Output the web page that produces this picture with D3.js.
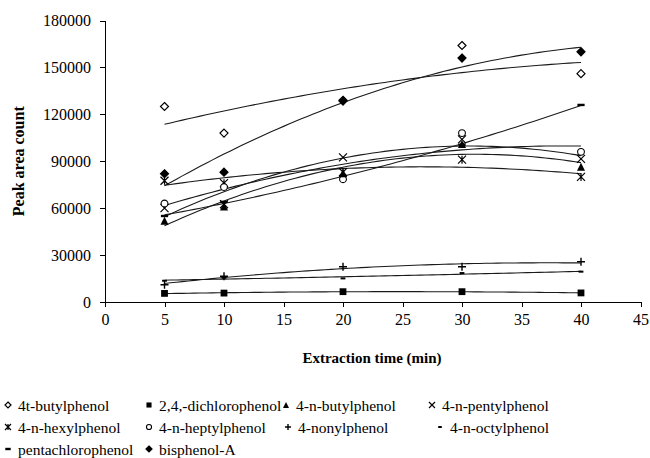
<!DOCTYPE html>
<html lang="en">
<head>
<meta charset="utf-8">
<title>Peak area vs extraction time</title>
<script src="https://d3js.org/d3.v7.min.js"></script>
<style>
  body { margin: 0; background: #fff; }
  svg text { font-family: "Times New Roman", Times, "Liberation Serif", "DejaVu Serif", serif; fill: #000; }
  .axis path, .axis line { stroke: #000; stroke-width: 1; shape-rendering: crispEdges; }
  .axis text { font-size: 16px; }
  .trend { fill: none; stroke: #1a1a1a; stroke-width: 1.1; }
</style>
</head>
<body>
<div id="chart"></div>
<script>
// extraction time (min)
var times = [5, 10, 20, 30, 40];

// peak area counts
var tButylphenol     = [125000, 108000, 129000, 164000, 146000];
var dichlorophenol   = [5500, 5700, 6600, 6600, 5800];
var nButylphenol     = [52000, 61000, 82500, 101000, 86500];
var nPentylphenol    = [60000, 62500, 92500, 104000, 91500];
var nHexylphenol     = [77500, 76000, 83000, 91000, 80000];
var nHeptylphenol    = [63000, 73500, 78500, 108000, 96000];
var nonylphenol      = [11000, 16500, 22500, 22500, 25700];
var nOctylphenol     = [13600, 15500, 15100, 18500, 19400];
var pentachlorophenol = [55000, 64000, 80500, 100500, 126000];
var bisphenolA       = [82000, 83000, 128500, 156000, 160000];

var seriesNames = ["4t-butylphenol", "2,4,-dichlorophenol", "4-n-butylphenol", "4-n-pentylphenol",
  "4-n-hexylphenol", "4-n-heptylphenol", "4-nonylphenol", "4-n-octylphenol",
  "pentachlorophenol", "bisphenol-A"];
var seriesMarkers = ["diamondOpen", "square", "triangle", "x", "star", "circle", "plus", "dash", "longdash", "diamond"];
var seriesValues = [tButylphenol, dichlorophenol, nButylphenol, nPentylphenol, nHexylphenol,
  nHeptylphenol, nonylphenol, nOctylphenol, pentachlorophenol, bisphenolA];

var xTicks = [0, 5, 10, 15, 20, 25, 30, 35, 40, 45];
var yTicks = [0, 30000, 60000, 90000, 120000, 150000, 180000];

var W = 650, H = 458;
var margin = { top: 20.5, left: 105, right: 9.5, bottom: 156 };

var svg = d3.select("#chart").append("svg")
  .attr("width", W).attr("height", H);

var x = d3.scaleLinear().domain([0, 45]).range([margin.left, W - margin.right]);
var y = d3.scaleLinear().domain([0, 180000]).range([H - margin.bottom, margin.top]);

// axes
svg.append("g").attr("class", "axis")
  .attr("transform", "translate(" + margin.left + ",0)")
  .call(d3.axisLeft(y).tickValues(yTicks).tickSize(5).tickSizeOuter(0).tickPadding(9)
    .tickFormat(d3.format("d")));

svg.append("g").attr("class", "axis")
  .attr("transform", "translate(0," + y(0) + ")")
  .call(d3.axisBottom(x).tickValues(xTicks).tickSize(5).tickSizeOuter(0).tickPadding(7));

svg.selectAll(".axis").attr("font-family", null);

// axis titles
svg.append("text")
  .attr("transform", "translate(24," + ((y(0) + y(180000)) / 2) + ") rotate(-90)")
  .attr("text-anchor", "middle")
  .attr("font-size", "16px").attr("font-weight", "bold")
  .text("Peak area count");

svg.append("text")
  .attr("x", 372).attr("y", 363)
  .attr("text-anchor", "middle")
  .attr("font-size", "15px").attr("font-weight", "bold")
  .text("Extraction time (min)");

// second order polynomial trend line (least squares), like the spreadsheet trendline
function quadFit(xs, ys) {
  var n = xs.length, s = [0, 0, 0, 0, 0], t = [0, 0, 0];
  for (var i = 0; i < n; i++) {
    for (var k = 0; k < 5; k++) s[k] += Math.pow(xs[i], k);
    for (var k2 = 0; k2 < 3; k2++) t[k2] += ys[i] * Math.pow(xs[i], k2);
  }
  var A = [[s[0], s[1], s[2], t[0]], [s[1], s[2], s[3], t[1]], [s[2], s[3], s[4], t[2]]];
  for (var c = 0; c < 3; c++) {
    for (var r = c + 1; r < 3; r++) {
      var f = A[r][c] / A[c][c];
      for (var j = c; j < 4; j++) A[r][j] -= f * A[c][j];
    }
  }
  var coef = [0, 0, 0];
  for (var r2 = 2; r2 >= 0; r2--) {
    var v = A[r2][3];
    for (var j2 = r2 + 1; j2 < 3; j2++) v -= A[r2][j2] * coef[j2];
    coef[r2] = v / A[r2][r2];
  }
  return function (xv) { return coef[0] + coef[1] * xv + coef[2] * xv * xv; };
}

var line = d3.line().x(function (d) { return x(d[0]); }).y(function (d) { return y(d[1]); });
var steps = d3.range(times[0], times[times.length - 1] + 0.01, 0.5);

seriesValues.forEach(function (vals) {
  var fn = quadFit(times, vals);
  svg.append("path").attr("class", "trend")
    .attr("d", line(steps.map(function (t) { return [t, fn(t)]; })));
});

// marker drawing
function drawMarker(g, type, s) {
  var h = s / 2;
  if (type === "diamondOpen" || type === "diamond") {
    g.append("path").attr("d", "M0," + (-h) + "L" + h + ",0L0," + h + "L" + (-h) + ",0Z")
      .attr("fill", type === "diamond" ? "#000" : "#fff").attr("stroke", "#000").attr("stroke-width", 1.2);
  } else if (type === "square") {
    g.append("rect").attr("x", -h * 0.85).attr("y", -h * 0.85).attr("width", s * 0.85).attr("height", s * 0.85).attr("fill", "#000");
  } else if (type === "triangle") {
    g.append("path").attr("d", "M0," + (-h) + "L" + h + "," + h + "L" + (-h) + "," + h + "Z").attr("fill", "#000");
  } else if (type === "circle") {
    g.append("circle").attr("r", h * 0.85).attr("fill", "#fff").attr("stroke", "#000").attr("stroke-width", 1.1);
  } else if (type === "x" || type === "star") {
    var p = "M" + (-h) + "," + (-h) + "L" + h + "," + h + "M" + h + "," + (-h) + "L" + (-h) + "," + h;
    if (type === "star") p += "M0," + (-h) + "L0," + h;
    g.append("path").attr("d", p).attr("stroke", "#000").attr("stroke-width", 1.2).attr("fill", "none");
  } else if (type === "plus") {
    g.append("path").attr("d", "M" + (-h) + ",0L" + h + ",0M0," + (-h) + "L0," + h)
      .attr("stroke", "#000").attr("stroke-width", 1.4);
  } else if (type === "dash") {
    g.append("rect").attr("x", -h * 0.6).attr("y", -1).attr("width", s * 0.6).attr("height", 2).attr("fill", "#000");
  } else if (type === "longdash") {
    g.append("rect").attr("x", -h * 0.9).attr("y", -1.2).attr("width", s * 0.9).attr("height", 2.4).attr("fill", "#000");
  }
}

seriesValues.forEach(function (vals, i) {
  vals.forEach(function (v, k) {
    var g = svg.append("g").attr("transform", "translate(" + x(times[k]) + "," + y(v) + ")");
    drawMarker(g, seriesMarkers[i], 8);
  });
});

// legend
var legendPos = [[8, 405], [149, 405], [286, 405], [432, 405],
                 [8, 427], [149, 427], [288, 427], [440, 427],
                 [8, 449], [149, 449]];
seriesNames.forEach(function (name, i) {
  var g = svg.append("g").attr("transform", "translate(" + legendPos[i][0] + "," + legendPos[i][1] + ")");
  drawMarker(g, seriesMarkers[i], 6);
  g.append("text").attr("x", 10).attr("y", 5.5).attr("font-size", "15.5px").text(name);
});
</script>
</body>
</html>
